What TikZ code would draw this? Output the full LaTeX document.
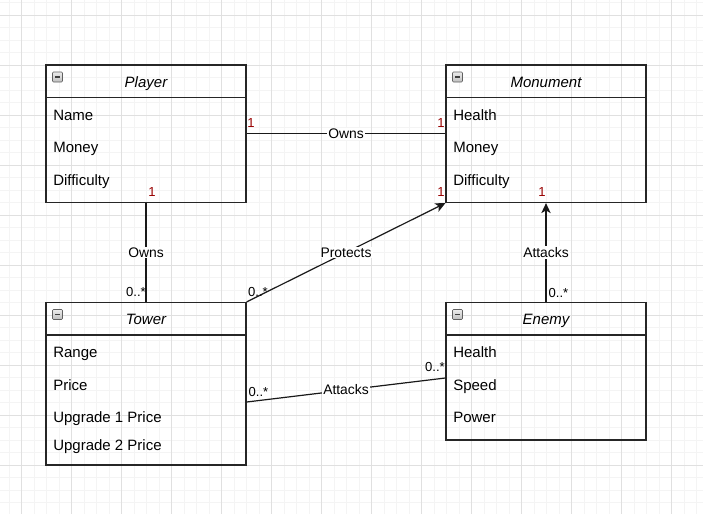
\documentclass[tikz,border=0pt]{standalone}
\usepackage{fontspec}
\setmainfont{Liberation Sans}
\usetikzlibrary{arrows.meta,calc}
\definecolor{mult}{HTML}{990000}
\definecolor{gminor}{HTML}{F4F4F4}
\definecolor{gmajor}{HTML}{E0E0E0}
\begin{document}
\begin{tikzpicture}[x=0.75pt,y=-0.75pt,
  classbox/.style={draw=black!85,line width=0.9pt,minimum width=150pt,inner sep=0pt,rectangle},
  hdr/.style={draw=black!85,line width=0.9pt},
  title/.style={font=\fontsize{11.25}{13}\selectfont\itshape,inner sep=0pt,anchor=base},
  attr/.style={font=\fontsize{11.25}{13}\selectfont,anchor=base west,inner sep=0pt},
  rel/.style={draw=black!90,line width=0.9pt},
  rellabel/.style={fill=white,inner sep=0.8pt,font=\fontsize{10.4}{12}\selectfont},
  one/.style={text=mult,inner sep=0pt,font=\fontsize{9.8}{11}\selectfont},
  many/.style={text=black,inner sep=0pt,font=\fontsize{9.8}{11}\selectfont},
  tip/.style={-{Stealth[length=7.5pt,width=7pt,inset=2pt]}},
  minicon/.pic={
    \shade[top color=gray!15,bottom color=gray!50,draw=gray!75!black,rounded corners=0.8pt,line width=0.4pt] (0,0) rectangle (10,10);
    \draw[line width=0.9pt,black!75] (2.5,5) -- (7.5,5);
  }
]
\useasboundingbox (0,0) rectangle (703,514);
\fill[white] (0,0) rectangle (703,514);
% grid
\foreach \i in {0,...,55} \draw[gminor,line width=0.75pt] ({9.2+12.5*\i},0) -- ({9.2+12.5*\i},514);
\foreach \i in {0,...,41} \draw[gminor,line width=0.75pt] (0,{2.5+12.5*\i}) -- (703,{2.5+12.5*\i});
\foreach \i in {0,...,13} \draw[gmajor,line width=0.75pt] ({21.7+50*\i},0) -- ({21.7+50*\i},514);
\foreach \i in {0,...,9} \draw[gmajor,line width=0.75pt] (0,{15+50*\i}) -- (703,{15+50*\i});

% classes
\node[classbox,minimum height=103.125pt] (player) at (146,133.75) {};
\node[classbox,minimum height=103.125pt] (monument) at (546,133.75) {};
\node[classbox,minimum height=121.875pt] (tower) at (146,383.75) {};
\node[classbox,minimum height=103.125pt] (enemy) at (546,371.25) {};

\draw[hdr] (46,97.5) -- (246,97.5);
\draw[hdr] (446,97.5) -- (646,97.5);
\draw[hdr] (46,335) -- (246,335);
\draw[hdr] (446,335) -- (646,335);

\pic at (52.5,72) {minicon};
\pic at (452.5,72) {minicon};
\pic at (52.5,309.5) {minicon};
\pic at (452.5,309.5) {minicon};

\node[title] (playert) at (146,87) {Player};
\node[title] (monumentt) at (546,87) {Monument};
\node[title] (towert) at (146,324.5) {Tower};
\node[title] (enemyt) at (546,324.5) {Enemy};

\node[attr] (p1) at (53,120) {Name};
\node[attr] (p2) at (53,152.5) {Money};
\node[attr] (p3) at (53,185) {Difficulty};
\node[attr] (m1) at (453,120) {Health};
\node[attr] (m2) at (453,152.5) {Money};
\node[attr] (m3) at (453,185) {Difficulty};
\node[attr] (t1) at (53,357.5) {Range};
\node[attr] (t2) at (53,390) {Price};
\node[attr] (t3) at (53,422.5) {Upgrade 1 Price};
\node[attr] (t4) at (53,450) {Upgrade 2 Price};
\node[attr] (e1) at (453,357.5) {Health};
\node[attr] (e2) at (453,390) {Speed};
\node[attr] (e3) at (453,422.5) {Power};

% relations
\draw[rel] (player.east) -- node[rellabel] {Owns} (monument.west);
\draw[rel] (player.south) -- node[rellabel] {Owns} (tower.north);
\draw[rel,tip] (tower.north east) -- node[rellabel] {Protects} (monument.south west);
\draw[rel,tip] (enemy.north) -- node[rellabel] {Attacks} (monument.south);
\draw[rel] ([yshift=-13.7pt]tower.east) -- node[rellabel] {Attacks} ([yshift=-5.06pt]enemy.west);

% multiplicities
\node[one] (m_a) at (251,123) {1};
\node[one] (m_b) at (441,123) {1};
\node[one] (m_c) at (152,192) {1};
\node[many] (m_d) at (136,292) {0..*};
\node[many] (m_e) at (258,292) {0..*};
\node[one] (m_f) at (441,192.5) {1};
\node[one] (m_g) at (542,192.5) {1};
\node[many] (m_h) at (558.5,293) {0..*};
\node[many] (m_i) at (258.5,392) {0..*};
\node[many] (m_j) at (435,367) {0..*};
\end{tikzpicture}
\end{document}
